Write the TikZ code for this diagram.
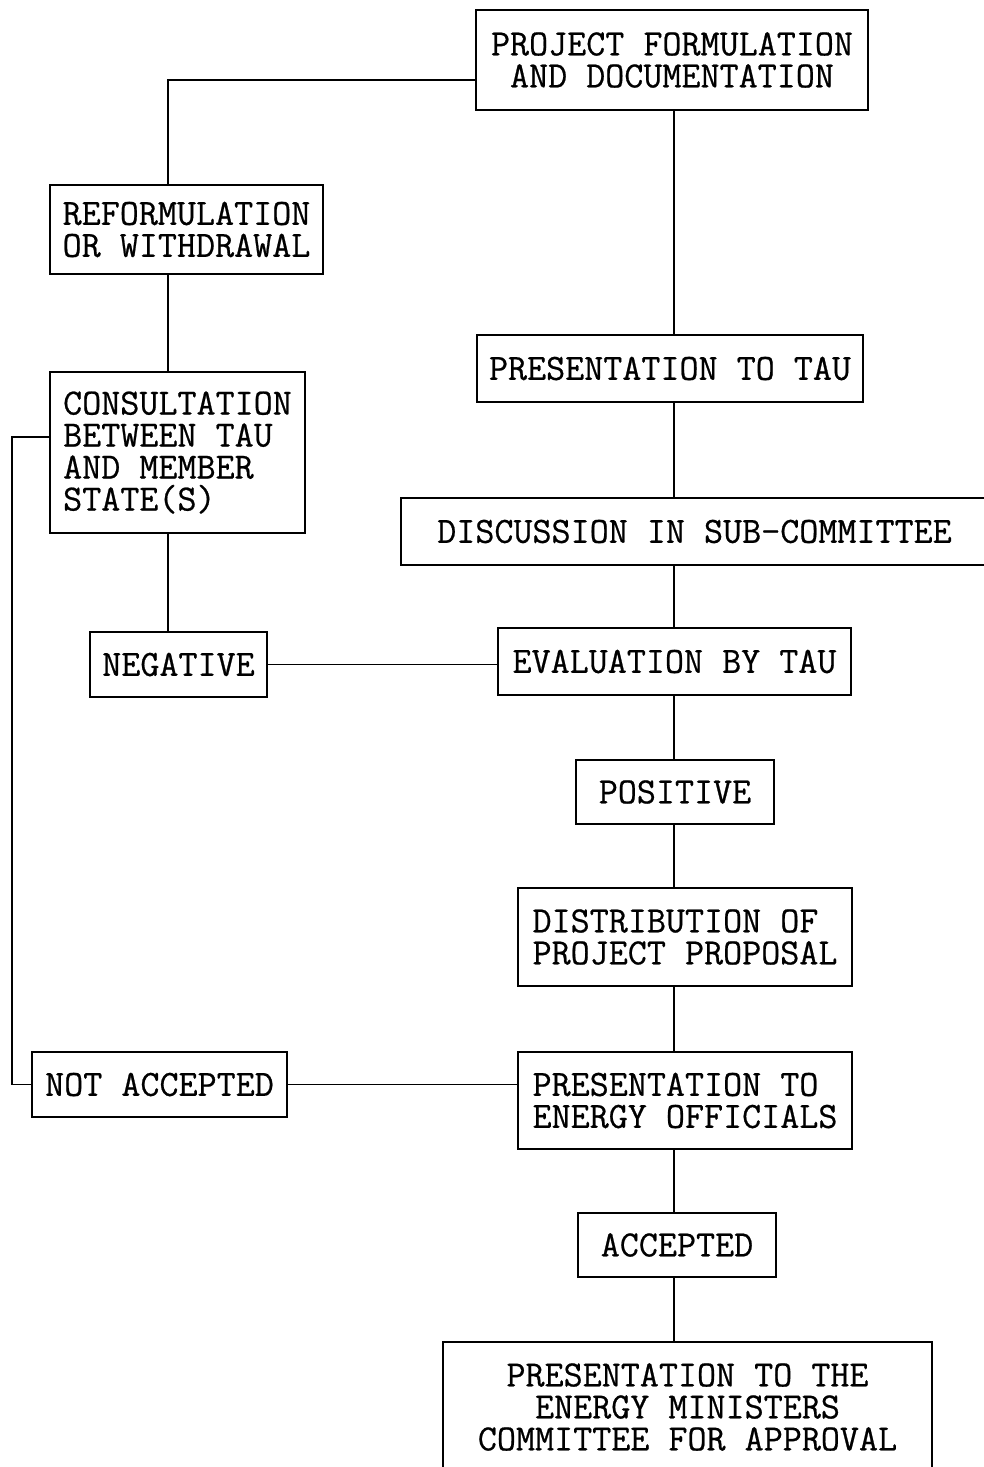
\documentclass[tikz,border=0pt]{standalone}
\usepackage{fontspec}
\setmonofont{Latin Modern Mono}[FakeBold=0.6]
\usepackage{tikz}
\usetikzlibrary{calc}

\tikzset{
  stage/.style={draw, line width=1.8pt, inner sep=0pt, align=center,
    font=\ttfamily\fontsize{37}{32}\selectfont},
  link/.style={line width=1.6pt}
}

\begin{document}
\begin{tikzpicture}[x=1pt, y=-1pt]
  \useasboundingbox (0,0) rectangle (983,1467);

  % column guides
  \coordinate (lcol) at (168,0);
  \coordinate (rcol) at (674,0);
  \coordinate (loop) at (12,0);

  % right column
  \node[stage, minimum width=392, minimum height=100] (proj) at (672,60)
    {PROJECT FORMULATION\\AND DOCUMENTATION};
  \node[stage, minimum width=386, minimum height=67] (ptau) at (670,368.5)
    {PRESENTATION TO TAU};
  \node[stage, minimum width=587, minimum height=67] (disc) at (694.5,531.5)
    {DISCUSSION IN SUB-COMMITTEE};
  \node[stage, minimum width=353, minimum height=67] (eval) at (674.5,661.5)
    {EVALUATION BY TAU};
  \node[stage, minimum width=198, minimum height=64] (pos) at (675,792)
    {POSITIVE};
  \node[stage, align=left, minimum width=334, minimum height=98] (distr) at (685,937)
    {DISTRIBUTION OF\\PROJECT PROPOSAL};
  \node[stage, align=left, minimum width=334, minimum height=97] (pener) at (685,1100.5)
    {PRESENTATION TO\\ENERGY OFFICIALS};
  \node[stage, minimum width=198, minimum height=64] (acc) at (677,1245)
    {ACCEPTED};
  \node[stage, minimum width=489, minimum height=130] (minist) at (687.5,1407)
    {PRESENTATION TO THE\\ENERGY MINISTERS\\COMMITTEE FOR APPROVAL};

  % left column
  \node[stage, minimum width=273, minimum height=89] (reform) at (186.5,229.5)
    {REFORMULATION\\OR WITHDRAWAL};
  \node[stage, align=left, minimum width=255, minimum height=161] (consult) at (177.5,452.5)
    {CONSULTATION\\BETWEEN TAU\\AND MEMBER\\STATE(S)};
  \node[stage, minimum width=177, minimum height=65] (neg) at (178.5,664.5)
    {NEGATIVE};
  \node[stage, minimum width=255, minimum height=65] (notacc) at (159.5,1084.5)
    {NOT ACCEPTED};

  % main flow
  \foreach \a/\b in {proj/ptau, ptau/disc, disc/eval, eval/pos, pos/distr,
                     distr/pener, pener/acc, acc/minist}
    \draw[link] (\a.south -| rcol) -- (\b.north -| rcol);

  % rejection branch
  \draw[link] ([yshift=-20pt]proj.west) -| (reform.north -| lcol);
  \draw[link] (reform.south -| lcol) -- (consult.north -| lcol);
  \draw[link] (consult.south -| lcol) -- (neg.north -| lcol);
  \draw[link] (neg.east) -- (neg.east -| eval.west);
  \draw[link] (notacc.east) -- (notacc.east -| pener.west);
  \draw[link] (notacc.west) -- (notacc.west -| loop) |- ([yshift=15.5pt]consult.west);
\end{tikzpicture}
\end{document}
